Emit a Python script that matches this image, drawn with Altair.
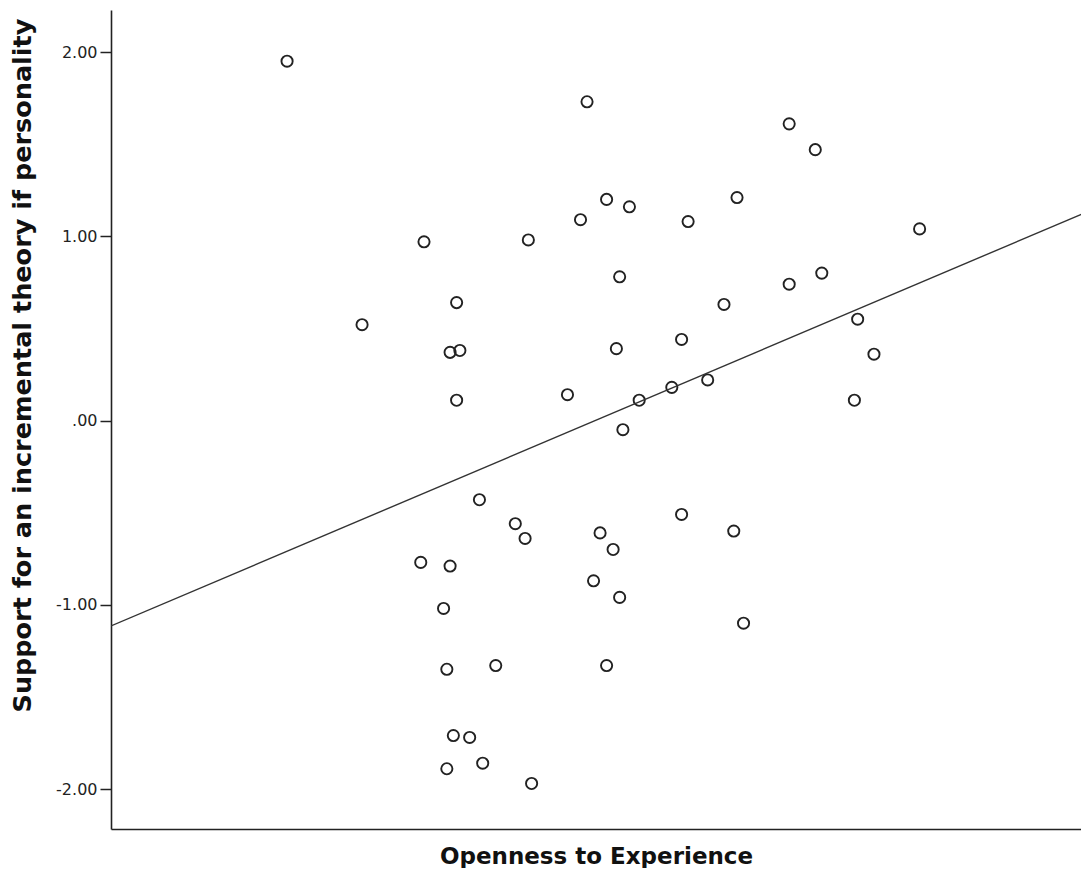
import altair as alt
import pandas as pd

# Openness to Experience (unlabelled axis, arbitrary units) and incremental-theory support
openness = [2.54, 3.46, 4.08, 4.16, 3.52, 3.92, 3.59, 3.44, 3.77, 4.48,
            2.96, 3.28, 3.56, 4.18, 4.08, 3.06, 3.88, 4.29, 2.77, 3.04,
            3.07, 3.55, 3.75, 4.34, 3.83, 3.72, 3.40, 3.06, 3.62, 4.28,
            3.57, 3.13, 3.75, 3.24, 3.50, 3.27, 3.91, 3.54, 2.95, 3.04,
            3.48, 3.56, 3.02, 3.94, 3.18, 3.52, 3.03, 3.05, 3.10, 3.03,
            3.14, 3.29]
support = [1.95, 1.73, 1.61, 1.47, 1.20, 1.21, 1.16, 1.09, 1.08, 1.04,
           0.97, 0.98, 0.78, 0.80, 0.74, 0.64, 0.63, 0.55, 0.52, 0.37,
           0.38, 0.39, 0.44, 0.36, 0.22, 0.18, 0.14, 0.11, 0.11, 0.11,
           -0.05, -0.43, -0.51, -0.56, -0.61, -0.64, -0.60, -0.70, -0.77, -0.79,
           -0.87, -0.96, -1.02, -1.10, -1.33, -1.33, -1.35, -1.71, -1.72, -1.89,
           -1.86, -1.97]

# Fit line (total) read at the two ends of the x range
fit_x = [2.0, 5.0]
fit_y = [-1.115, 1.137]

y_ticks = [-2, -1, 0, 1, 2]
x_domain = [2.0, 4.975]
y_domain = [-2.217, 2.228]

pts = pd.DataFrame({"x": openness, "y": support})
fit = pd.DataFrame({"x": fit_x, "y": fit_y})

FONT = "DejaVu Sans"

x_enc = alt.X("x:Q", scale=alt.Scale(domain=x_domain, nice=False, zero=False),
              axis=alt.Axis(title="Openness to Experience", labels=False, ticks=False,
                            grid=False, domainColor="#222222", domainWidth=1.6,
                            titleFont=FONT, titleFontSize=23, titleFontWeight="bold",
                            titleColor="#111111", titlePadding=16))
y_enc = alt.Y("y:Q", scale=alt.Scale(domain=y_domain, nice=False, zero=False),
              axis=alt.Axis(title="Support for an incremental theory if personality",
                            values=y_ticks, grid=False,
                            labelExpr="datum.value == 0 ? '.00' : replace(format(datum.value, '.2f'), '\u2212', '-')",
                            labelFont=FONT, labelFontSize=16, labelColor="#222222",
                            labelPadding=3, tickSize=11, tickColor="#222222", tickWidth=1.5,
                            domainColor="#222222", domainWidth=1.6,
                            titleFont=FONT, titleFontSize=25.5, titleFontWeight="bold",
                            titleColor="#111111", titlePadding=20, titleY=355))

points = alt.Chart(pts).mark_point(shape="circle", filled=False, size=125,
                                    strokeWidth=1.9, color="#222222", opacity=1).encode(
    x=x_enc, y=y_enc)

line = alt.Chart(fit).mark_line(color="#333333", strokeWidth=1.4, clip=True).encode(
    x="x:Q", y="y:Q")

chart = (points + line).properties(
    width=970, height=819,
    padding={"left": 2, "top": 2, "right": 0, "bottom": 0}
).configure_view(stroke=None)

chart.save("out.html", embed_options={"renderer": "svg", "actions": False})
